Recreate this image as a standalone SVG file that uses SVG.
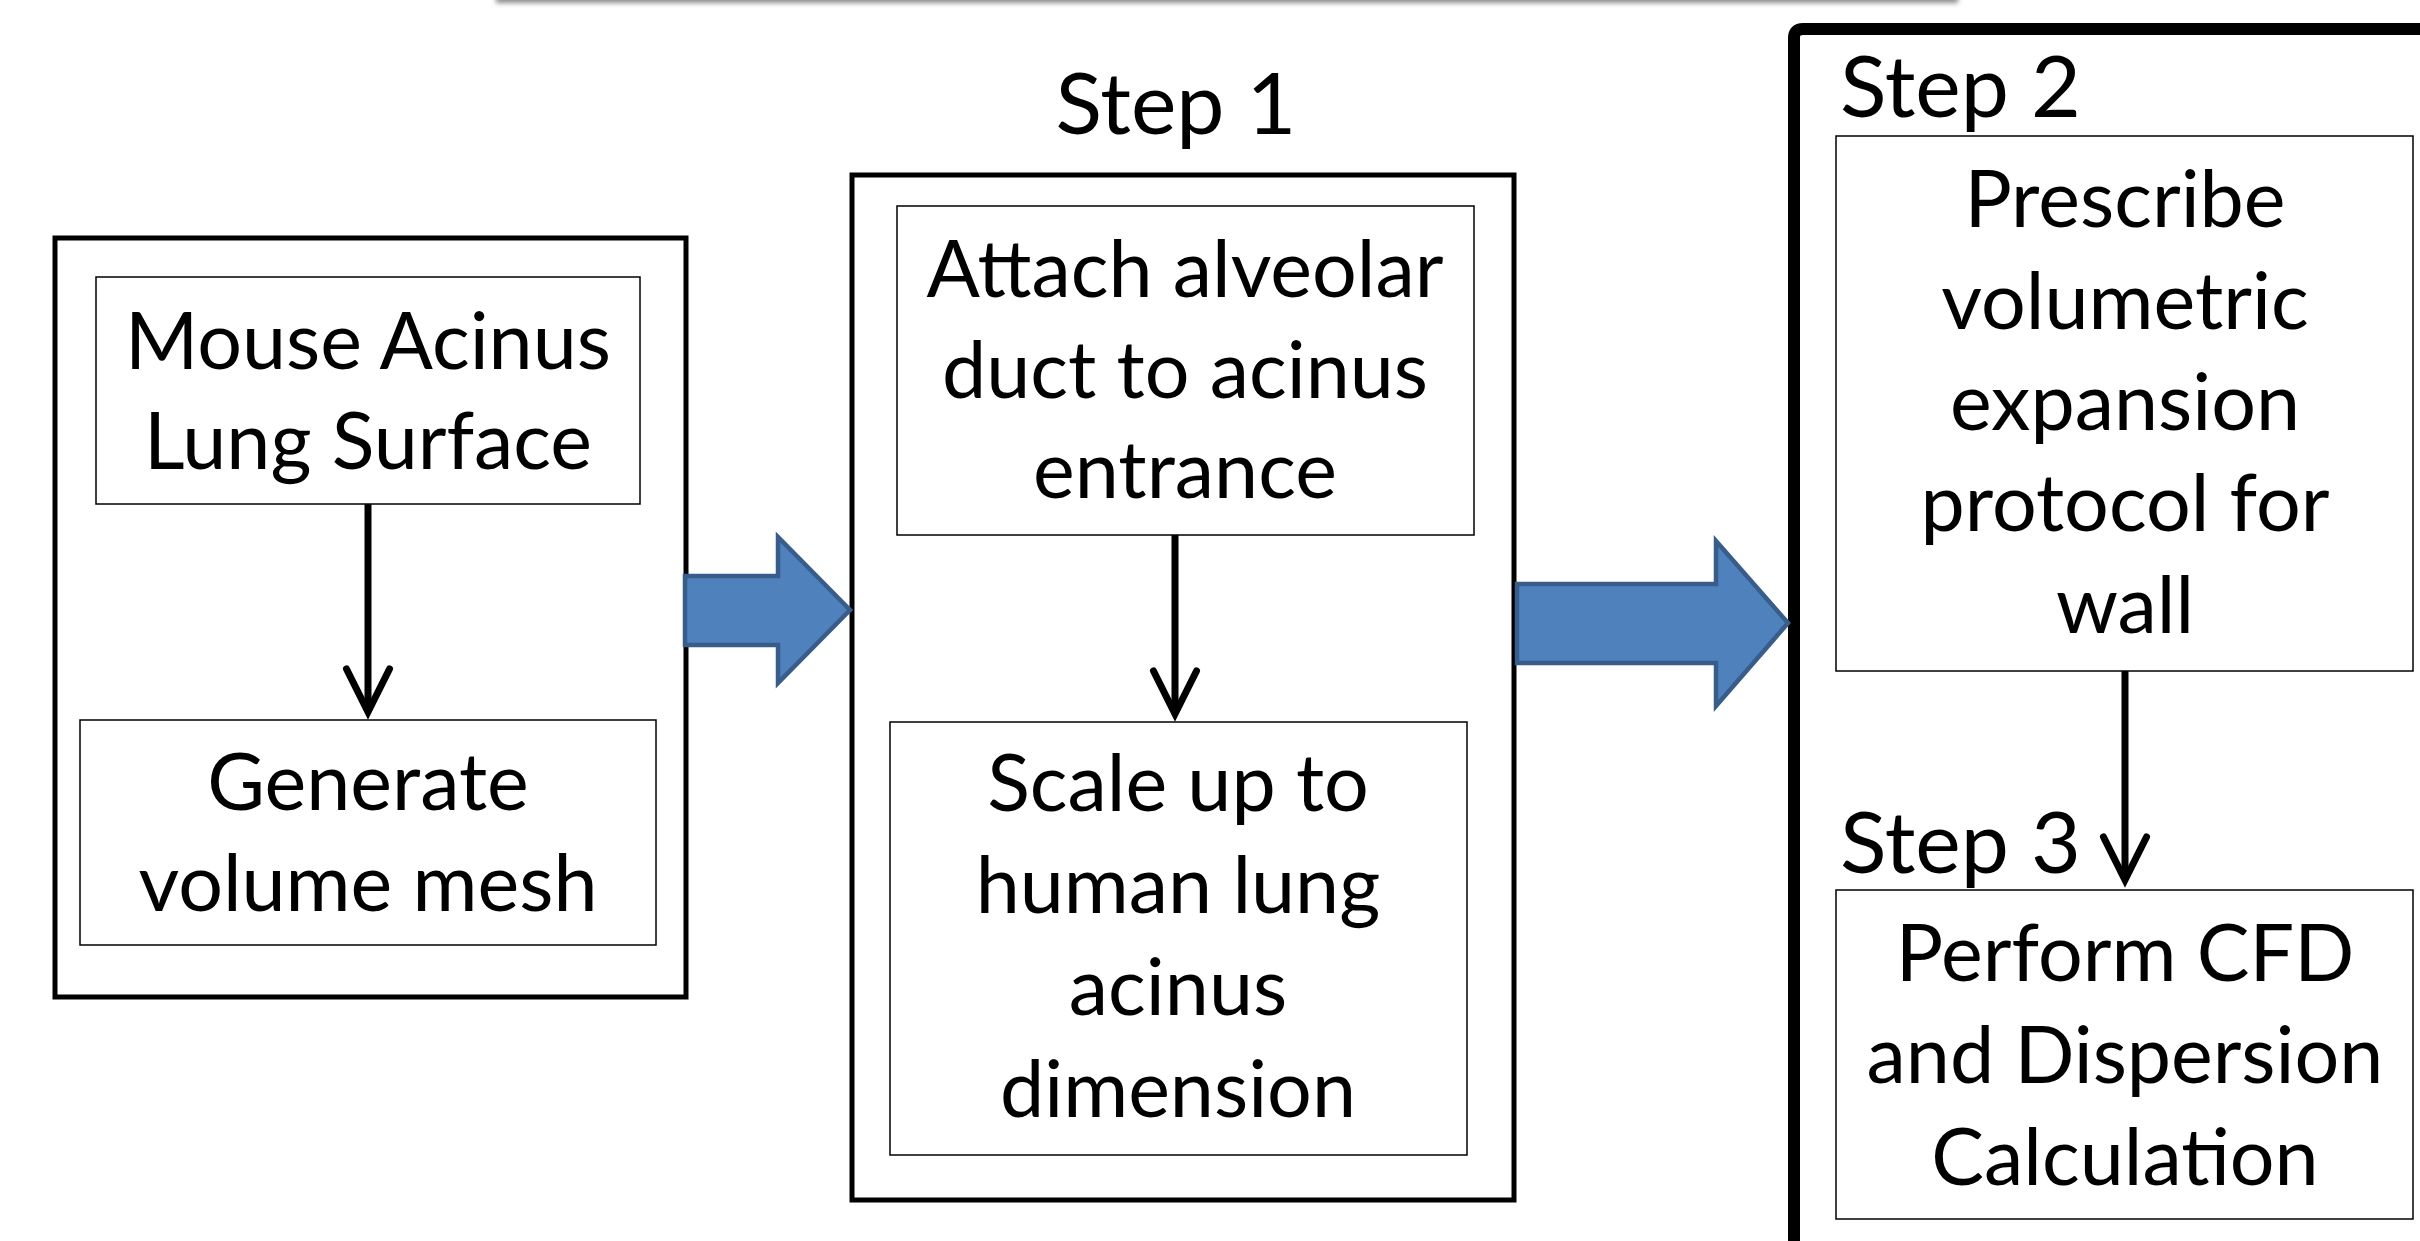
<svg xmlns="http://www.w3.org/2000/svg" width="2420" height="1241" viewBox="0 0 2420 1241">
<style>
.outer{fill:#fff;stroke:#000;stroke-width:5}
.inner{fill:#fff;stroke:#000;stroke-width:1.5}
.t{font-family:Lato,"Liberation Sans",sans-serif;font-size:79px;fill:#000;text-anchor:middle}
.step{font-family:Lato,"Liberation Sans",sans-serif;font-size:86px;fill:#000}
.block{fill:#4F81BD;stroke:#385D8A;stroke-width:4.5}
.arrow{fill:none;stroke:#000;stroke-width:7;stroke-linecap:butt;stroke-linejoin:miter}
.head{fill:none;stroke:#000;stroke-width:7;stroke-linecap:round;stroke-linejoin:miter}
</style>
<defs>
<filter id="blur" x="-5%" y="-200%" width="110%" height="500%">
<feGaussianBlur stdDeviation="2.5"/>
</filter>
</defs>
<rect x="0" y="0" width="2420" height="1241" fill="#fff"/>
<rect x="496" y="-8" width="1462" height="11" fill="#8c8c8c" filter="url(#blur)"/>

<g id="group-left">
<rect class="outer" x="55" y="238" width="631" height="759"/>
</g>
<g id="node-mouse">
<rect class="inner" x="96" y="277" width="544" height="227"/>
<text class="t" x="368" y="369">Mouse Acinus</text>
<text class="t" x="368" y="469">Lung Surface</text>
</g>
<g id="node-generate">
<rect class="inner" x="80" y="720" width="576" height="225"/>
<text class="t" x="368" y="810">Generate</text>
<text class="t" x="368" y="911">volume mesh</text>
</g>

<g id="group-step1">
<rect class="outer" x="852" y="175" width="662" height="1025"/>
<text class="step" x="1176" y="134" text-anchor="middle">Step 1</text>
</g>
<g id="node-attach">
<rect class="inner" x="897" y="206" width="577" height="329"/>
<text class="t" x="1185" y="297">Attach alveolar</text>
<text class="t" x="1185" y="398">duct to acinus</text>
<text class="t" x="1185" y="498">entrance</text>
</g>
<g id="node-scale">
<rect class="inner" x="890" y="722" width="577" height="433"/>
<text class="t" x="1178" y="811">Scale up to</text>
<text class="t" x="1178" y="913">human lung</text>
<text class="t" x="1178" y="1015">acinus</text>
<text class="t" x="1178" y="1117">dimension</text>
</g>

<g id="group-step23">
<path d="M1794,1260 L1794,38 Q1794,29 1803,29 L2440,29" fill="none" stroke="#000" stroke-width="12"/>
<text class="step" x="1840" y="117">Step 2</text>
<text class="step" x="1840" y="873">Step 3</text>
</g>
<g id="node-prescribe">
<rect class="inner" x="1836" y="136" width="577" height="535"/>
<text class="t" x="2125" y="227">Prescribe</text>
<text class="t" x="2125" y="329">volumetric</text>
<text class="t" x="2125" y="430">expansion</text>
<text class="t" x="2125" y="531">protocol for</text>
<text class="t" x="2125" y="633">wall</text>
</g>
<g id="node-cfd">
<rect class="inner" x="1836" y="890" width="577" height="329"/>
<text class="t" x="2125" y="981">Perform CFD</text>
<text class="t" x="2125" y="1083">and Dispersion</text>
<text class="t" x="2125" y="1185">Calculation</text>
</g>

<g id="connectors">
<path class="arrow" d="M368,504 V708"/>
<path class="head" d="M346.5,669 L368,712 L389.5,669"/>
<path class="arrow" d="M1175,535 V710"/>
<path class="head" d="M1153.5,671 L1175,714 L1196.5,671"/>
<path class="arrow" d="M2125,671 V876"/>
<path class="head" d="M2103.5,837 L2125,880 L2146.5,837"/>
<polygon class="block" points="685,576 778,576 778,537 850,610 778,683 778,645 685,645"/>
<polygon class="block" points="1517,584 1716,584 1716,541 1788,623 1716,706 1716,663 1517,663"/>
</g>
</svg>
